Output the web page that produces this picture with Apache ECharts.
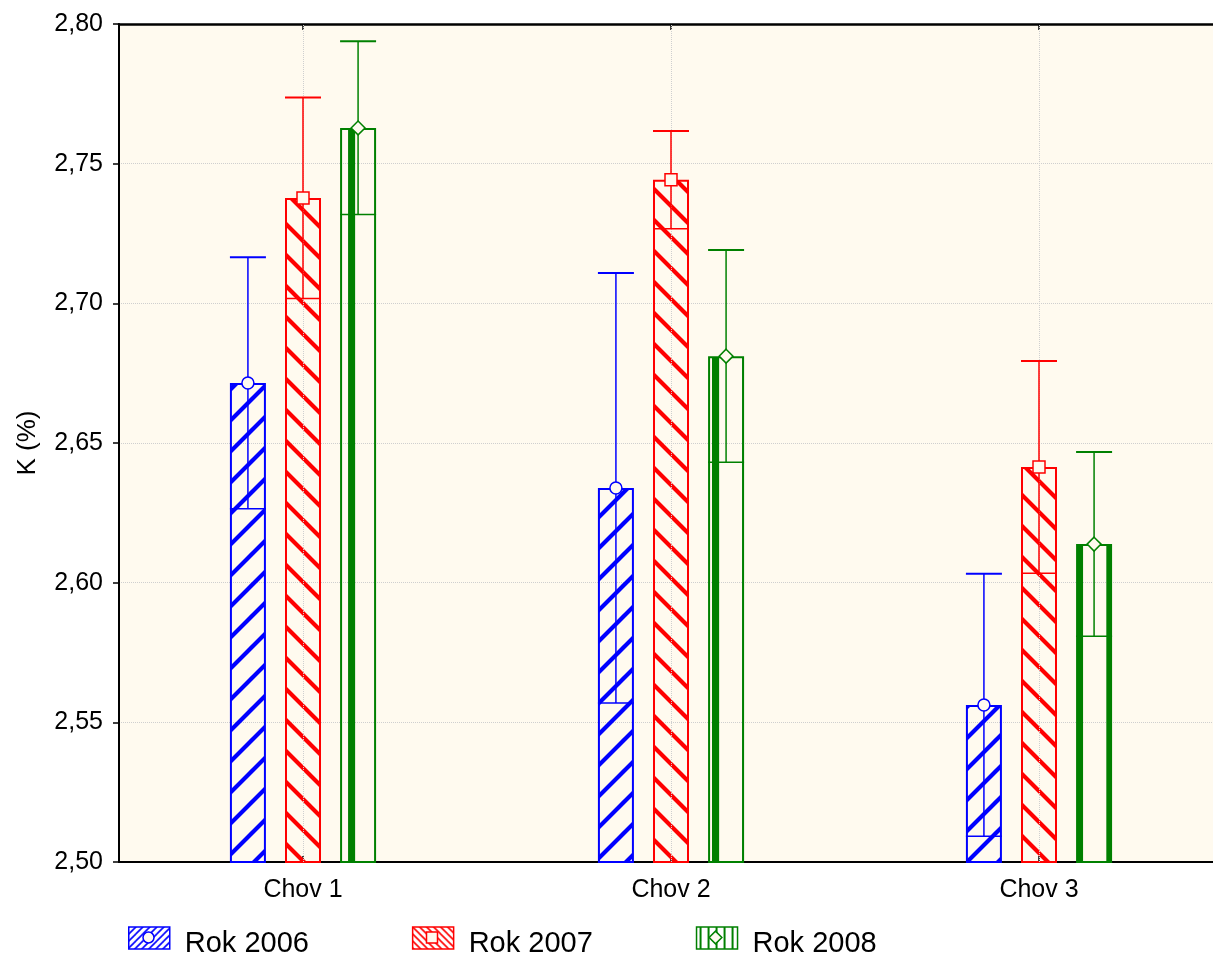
<!DOCTYPE html>
<html><head><meta charset="utf-8">
<script src="https://cdn.jsdelivr.net/npm/echarts@6/dist/echarts.min.js"></script>
<style>html,body{margin:0;padding:0;background:#fff;overflow:hidden}#c{width:1230px;height:957px}</style>
</head><body><div id="c"></div>
<script>
// ---- data ----
const categories = ['Chov 1', 'Chov 2', 'Chov 3'];
const seriesNames = ['Rok 2006', 'Rok 2007', 'Rok 2008'];
const mean2006 = [2.6715, 2.6339, 2.5562];
const err2006  = [0.045, 0.077, 0.047];
const mean2007 = [2.7377, 2.7442, 2.6414];
const err2007  = [0.036, 0.0175, 0.038];
const mean2008 = [2.7628, 2.6811, 2.6138];
const err2008  = [0.031, 0.038, 0.033];
const yMin = 2.50, yMax = 2.80, yStep = 0.05;

// ---- style ----
const FONT = "'Liberation Sans', Arial, sans-serif";
const BLUE = '#0000ff', RED = '#ff0000', GREEN = '#008000';
const BG = '#fffaef';
const BAR_W = 36, BAR_GAP = 0.53;
const LEGEND_LEFT = 128, LEGEND_TOP = 918, LEGEND_ICON_W = 41, LEGEND_ICON_H = 22, LEGEND_GAP = 103, LEGEND_STEP = 283.5;

function hatch(color, dir, size, lw) {
  const cv = document.createElement('canvas');
  cv.width = size; cv.height = size;
  const ctx = cv.getContext('2d');
  ctx.strokeStyle = color; ctx.lineWidth = lw; ctx.lineCap = 'square';
  ctx.beginPath();
  for (let k = -1; k <= 1; k++) {
    if (dir > 0) { ctx.moveTo(k * size, size); ctx.lineTo(k * size + size, 0); }
    else { ctx.moveTo(k * size, 0); ctx.lineTo(k * size + size, size); }
  }
  ctx.stroke();
  return cv;
}
function stripes(color, period, w) {
  const cv = document.createElement('canvas');
  cv.width = period; cv.height = 8;
  const ctx = cv.getContext('2d');
  ctx.fillStyle = color; ctx.fillRect(0, 0, w, 8);
  return cv;
}
const patBlue = { image: hatch(BLUE, 1, 31, 4.2), repeat: 'repeat' };
const patRed = { image: hatch(RED, -1, 31, 4.2), repeat: 'repeat' };
const patGreen = { image: stripes(GREEN, 30, 7), repeat: 'repeat', x: 14.4, scaleX: 30.33 / 30 };
const legBlue = { image: hatch(BLUE, 1, 7, 1.6), repeat: 'repeat' };
const legRed = { image: hatch(RED, -1, 7, 1.6), repeat: 'repeat' };
const legGreen = { image: stripes(GREEN, 8, 2), repeat: 'repeat', x: 3 };

const colors = [BLUE, RED, GREEN];
const pats = [patBlue, patRed, patGreen];
const legPats = [legBlue, legRed, legGreen];
const means = [mean2006, mean2007, mean2008];
const errs = [err2006, err2007, err2008];
const markers = ['circle', 'square', 'diamond'];

function markerShape(kind, x, y, color, s) {
  const style = { fill: BG, stroke: color, lineWidth: 1.5 };
  if (kind === 'circle') return { type: 'circle', shape: { cx: x, cy: y, r: s * 0.5 }, style };
  if (kind === 'square') return { type: 'rect', shape: { x: x - s * 0.5, y: y - s * 0.5, width: s, height: s }, style };
  const d = s * 0.58;
  return { type: 'polygon', shape: { points: [[x, y - d], [x + d, y], [x, y + d], [x - d, y]] }, style };
}

const barSeries = seriesNames.map((name, i) => ({
  type: 'bar', name, z: 2,
  barWidth: BAR_W, barGap: (BAR_GAP * 100) + '%',
  data: means[i],
  itemStyle: { color: pats[i], borderColor: colors[i], borderWidth: 2 },
  emphasis: { disabled: true }, silent: true
}));

const errSeries = seriesNames.map((name, i) => ({
  type: 'custom', name: 'err' + i, z: 5, silent: true,
  data: means[i].map((m, j) => [j, m, errs[i][j]]),
  encode: { x: 0, y: 1 },
  renderItem(params, api) {
    const cat = api.value(0), m = api.value(1), e = api.value(2);
    const off = (i - 1) * BAR_W * (1 + BAR_GAP);
    const pm = api.coord([cat, m]), ph = api.coord([cat, m + e]), pl = api.coord([cat, m - e]);
    const x = pm[0] + off, h = BAR_W / 2;
    const c = colors[i];
    return {
      type: 'group',
      children: [
        { type: 'line', shape: { x1: x, y1: ph[1], x2: x, y2: pl[1] }, style: { stroke: c, lineWidth: 1.5 } },
        { type: 'line', shape: { x1: x - h, y1: ph[1], x2: x + h, y2: ph[1] }, style: { stroke: c, lineWidth: 2 } },
        { type: 'line', shape: { x1: x - h, y1: pl[1], x2: x + h, y2: pl[1] }, style: { stroke: c, lineWidth: 1.5 } },
        markerShape(markers[i], x, pm[1], c, 12)
      ]
    };
  }
}));

const gridLineSeries = {
  type: 'line', name: 'vgrid', z: 1, data: [], silent: true,
  markLine: {
    silent: true, symbol: 'none', label: { show: false },
    lineStyle: { color: '#cfcfcf', type: 'dotted', width: 1 },
    data: categories.map(c => ({ xAxis: c }))
  }
};

const legendMarkers = seriesNames.map((n, i) =>
  Object.assign(markerShape(markers[i], LEGEND_LEFT + i * LEGEND_STEP + LEGEND_ICON_W / 2,
    937.5, colors[i], 11), { z: 100 }));

const chart = echarts.init(document.getElementById('c'));
chart.setOption({
  animation: false,
  textStyle: { fontFamily: FONT },
  grid: { left: 119, top: 24, right: 7, bottom: 95, show: true, backgroundColor: BG, borderColor: '#000', borderWidth: 0 },
  legend: {
    data: seriesNames.map((n, i) => ({ name: n, itemStyle: { color: legPats[i], borderColor: colors[i], borderWidth: 1.5 } })),
    left: LEGEND_LEFT, top: LEGEND_TOP, padding: 0, itemWidth: LEGEND_ICON_W, itemHeight: LEGEND_ICON_H,
    itemGap: LEGEND_GAP, icon: 'rect', selectedMode: false,
    formatter: name => '{t|' + name + '}',
    textStyle: { fontSize: 29, color: '#000', fontFamily: FONT, padding: [0, 0, 0, 10],
      rich: { t: { fontSize: 29, color: '#000', fontFamily: FONT, lineHeight: 29, padding: [11, 0, 0, 0] } } }
  },
  xAxis: [{
    type: 'category', data: categories, position: 'bottom',
    axisLine: { show: true, lineStyle: { color: '#000', width: 2 } },
    axisTick: { show: true, inside: true, alignWithLabel: true, length: 6, lineStyle: { color: '#000', width: 1.5 } },
    axisLabel: { fontSize: 25, color: '#000', margin: 16, fontFamily: FONT },
    splitLine: { show: false }
  }, {
    type: 'category', data: categories, position: 'top',
    axisLine: { show: true, lineStyle: { color: '#000', width: 2.5 } },
    axisTick: { show: true, inside: true, alignWithLabel: true, length: 6, lineStyle: { color: '#000', width: 1.5 } },
    axisLabel: { show: false }, splitLine: { show: false }
  }],
  yAxis: {
    type: 'value', min: yMin, max: yMax, interval: yStep,
    name: 'K (%)', nameLocation: 'middle', nameGap: 78,
    nameTextStyle: { fontSize: 26, color: '#000', fontFamily: FONT },
    axisLine: { show: true, lineStyle: { color: '#000', width: 2 } },
    axisTick: { show: true, inside: false, length: 6, lineStyle: { color: '#000', width: 1.5 } },
    axisLabel: { fontSize: 25, color: '#000', margin: 16, fontFamily: FONT,
      formatter: v => v.toFixed(2).replace('.', ',') },
    splitLine: { show: true, lineStyle: { color: '#cfcfcf', type: 'dotted', width: 1 } }
  },
  series: [gridLineSeries, ...barSeries, ...errSeries],
  graphic: legendMarkers
});
</script></body></html>
